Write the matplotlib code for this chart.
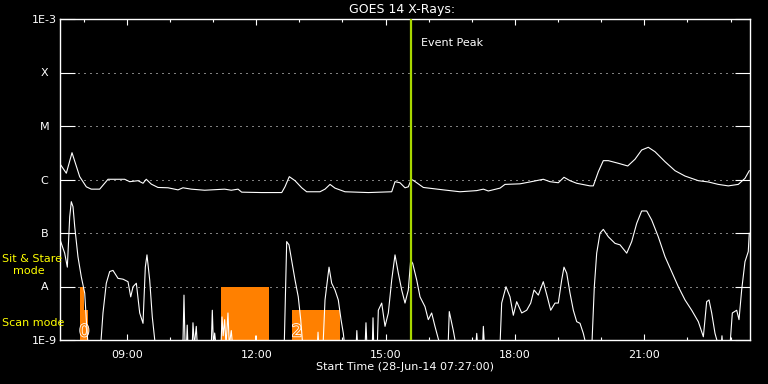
import datetime as dt
import matplotlib
matplotlib.use('Agg')
import matplotlib.pyplot as plt
import matplotlib.dates as mdates
import matplotlib.patheffects as pe
from matplotlib.ticker import NullLocator

# start of the plotted interval
start = dt.datetime(2014, 6, 28, 7, 27)
end_minutes = 960

# 1-8 A channel (upper curve): minutes after start, flux in W/m^2
long_min = [1, 8.8, 16.7, 27.4, 36.6, 43.5, 55.2, 66.8, 90, 97, 108.5, 115.5, 120, 127,
            136.3, 150.3, 164.2, 171.1, 182.7, 201.3, 229.1, 238.3, 247.7, 252.8, 280.6,
            308.5, 313, 319, 327, 336.3, 343.2, 361.7, 368.7, 375.7, 382.6, 396.5, 429,
            461.5, 466.1, 473, 480, 484.6, 488.4, 490.7, 496.3, 505.5, 533.3, 556.5, 579.8,
            589, 595.9, 612.2, 619.1, 640, 653.9, 672.4, 681.7, 693.3, 701.2, 709.6, 718.9,
            737.4, 742, 749, 755.9, 762.9, 776.8, 789.9, 800, 809.3, 818.5, 827.8, 841.8,
            855.7, 869.6, 888.1, 902, 915.9, 929.8, 943.7, 953, 959]
long_flux = [1.87e-6, 1.31e-6, 3.17e-6, 1.13e-6, 7.3e-7, 6.6e-7, 6.6e-7, 1.01e-6, 1.01e-6,
             9.1e-7, 9.5e-7, 8.5e-7, 1.01e-6, 8.2e-7, 7.1e-7, 7.0e-7, 6.4e-7, 7.0e-7, 6.6e-7,
             6.3e-7, 6.6e-7, 6.3e-7, 6.6e-7, 5.8e-7, 5.7e-7, 5.7e-7, 7.3e-7, 1.13e-6, 9.5e-7,
             7.0e-7, 5.9e-7, 5.9e-7, 6.6e-7, 8.1e-7, 6.9e-7, 5.9e-7, 5.7e-7, 5.9e-7, 9.1e-7,
             8.7e-7, 7.0e-7, 7.3e-7, 9.8e-7, 9.8e-7, 8.7e-7, 7.1e-7, 6.4e-7, 5.9e-7, 6.2e-7,
             6.6e-7, 6.1e-7, 6.9e-7, 8.1e-7, 8.3e-7, 9.0e-7, 1.01e-6, 9.1e-7, 8.7e-7, 1.10e-6,
             9.5e-7, 8.5e-7, 7.6e-7, 7.6e-7, 1.40e-6, 2.25e-6, 2.25e-6, 2.01e-6, 1.79e-6,
             2.39e-6, 3.56e-6, 4.0e-6, 3.31e-6, 2.15e-6, 1.46e-6, 1.16e-6, 9.5e-7, 9.0e-7,
             8.1e-7, 7.6e-7, 8.1e-7, 1.05e-6, 1.46e-6]

# 0.5-4 A channel (lower curve)
short_min = [1, 6.5, 10.2, 13.5, 15.7, 18.1, 20.5, 25, 29.6, 34.4, 36.6, 39, 56.6, 59.8,
             64.4, 69.1, 73.7, 80.7, 87.7, 94.6, 98.4, 101.6, 106.2, 110.9, 115.5, 118.7,
             121, 124.8, 128.4, 132.6, 171, 172.5, 174, 176, 177, 178, 184, 185, 187, 189.6,
             191, 210.5, 211.9, 213.5, 215.2, 217, 224, 225.4, 227, 229.1, 231, 233.7, 235.5,
             238.3, 240, 272, 272.7, 273.5, 312, 315.4, 318.6, 322.3, 327, 331.5, 334.9,
             337.7, 358, 359, 360, 366, 368.7, 374.3, 378, 382.6, 387.2, 391, 394.2, 396,
             412, 413, 414, 424.5, 425.7, 427, 434.5, 435.5, 436.5, 441.5, 442.9, 447.6,
             452.2, 456.8, 461.5, 466.1, 470.7, 475.4, 480, 484.6, 487.9, 490.7, 496.3,
             500.9, 507.8, 512.4, 517.1, 521.7, 528.7, 540, 541.6, 547.2, 550.9, 578.5,
             579.8, 581, 588, 589, 590.5, 612.2, 614.5, 620.5, 626.1, 630.7, 635.4, 642.4,
             649.3, 654.9, 659.5, 665.5, 672.4, 678, 682.7, 688.7, 693.3, 698, 701.2, 705,
             709.6, 714.2, 718.9, 723.5, 728.1, 732, 740, 743.4, 746.7, 751.3, 755.9, 762.9,
             772.2, 779.2, 788.5, 795.4, 802.4, 809.3, 816.3, 823.2, 832.4, 841.8, 851,
             860.3, 869.6, 878.9, 888.1, 895.1, 899.7, 903, 906.7, 911.3, 915.9, 920, 921,
             922, 932.2, 935.4, 941.5, 944.7, 948.4, 953, 957.6, 959]
short_flux = [6.9e-8, 4.2e-8, 2.3e-8, 2.0e-7, 3.85e-7, 3.1e-7, 1.31e-7, 3.6e-8, 1.52e-8,
              7.5e-9, 2.4e-9, 8e-10, 8e-10, 3.2e-9, 1.15e-8, 1.9e-8, 2.0e-8, 1.42e-8,
              1.37e-8, 1.23e-8, 6.4e-9, 9.9e-9, 1.15e-8, 3.2e-9, 2.05e-9, 2.3e-8, 3.9e-8,
              1.32e-8, 2.7e-9, 8e-10, 8e-10, 6.9e-9, 8e-10, 8e-10, 1.9e-9, 8e-10, 8e-10,
              2.1e-9, 8e-10, 1.8e-9, 8e-10, 8e-10, 3.6e-9, 8e-10, 1.35e-9, 8e-10, 8e-10,
              2.7e-9, 1.2e-9, 2.4e-9, 8e-10, 3.2e-9, 8e-10, 1.5e-9, 8e-10, 8e-10, 1.2e-9,
              8e-10, 8e-10, 6.9e-8, 6.0e-8, 3.1e-8, 1.32e-8, 6.4e-9, 2.4e-9, 8e-10, 8e-10,
              1.4e-9, 8e-10, 8e-10, 5.6e-9, 2.3e-8, 1.15e-8, 8.6e-9, 5.6e-9, 2.4e-9, 1.33e-9,
              8e-10, 8e-10, 1.5e-9, 8e-10, 8e-10, 2.1e-9, 8e-10, 8e-10, 2.6e-9, 8e-10, 8e-10,
              3.6e-9, 4.9e-9, 1.8e-9, 3.2e-9, 1.32e-8, 3.9e-8, 1.77e-8, 8.6e-9, 4.9e-9,
              8.6e-9, 3.1e-8, 2.7e-8, 1.32e-8, 6.4e-9, 4.2e-9, 2.4e-9, 3.2e-9, 1.8e-9, 8e-10,
              8e-10, 3.4e-9, 1.5e-9, 8e-10, 8e-10, 1.33e-9, 8e-10, 8e-10, 1.8e-9, 8e-10,
              8e-10, 4.9e-9, 9.9e-9, 6.4e-9, 2.9e-9, 5.2e-9, 3.2e-9, 3.6e-9, 4.9e-9, 8.6e-9,
              6.9e-9, 1.23e-8, 6.4e-9, 3.6e-9, 4.9e-9, 4.9e-9, 1.32e-8, 2.3e-8, 1.77e-8,
              7.5e-9, 3.6e-9, 2.2e-9, 2.05e-9, 1.33e-9, 8e-10, 8e-10, 9.9e-9, 4.2e-8, 9.9e-8,
              1.17e-7, 8.5e-8, 6.4e-8, 6.0e-8, 4.2e-8, 6.9e-8, 1.52e-7, 2.58e-7, 2.58e-7,
              1.75e-7, 8.5e-8, 3.6e-8, 1.9e-8, 9.9e-9, 5.6e-9, 3.6e-9, 2.2e-9, 1.15e-9,
              5.2e-9, 5.6e-9, 3.2e-9, 1.33e-9, 8e-10, 8e-10, 1.2e-9, 8e-10, 8e-10, 3.2e-9,
              3.6e-9, 2.4e-9, 8.6e-9, 2.9e-8, 4.5e-8, 9.9e-8]

# observing mode blocks
mode_start = [27.4, 33.4, 224.1, 323.2]
mode_end = [33.4, 39.0, 290.7, 389.5]
mode_top = [1e-8, 3.6e-9, 1e-8, 3.6e-9]
mode_label = ['0', '2']
mode_label_min = [33.8, 329.7]

event_peak_min = 488.3

levels = [1e-9, 1e-8, 1e-7, 1e-6, 1e-5, 1e-4, 1e-3]
level_labels = ['1E-9', 'A', 'B', 'C', 'M', 'X', '1E-3']


def to_time(mins):
    return [start + dt.timedelta(minutes=m) for m in mins]


fig = plt.figure(figsize=(7.68, 3.84), dpi=100, facecolor='black')
ax = fig.add_axes([60 / 768, 44 / 384, 690 / 768, 321 / 384])
ax.set_facecolor('black')
ax.set_yscale('log')

# flare class dotted lines
for lv in levels[1:-1]:
    ax.axhline(lv, color='white', lw=0.72, ls=(0, (1, 5)), zorder=1)

# mode rectangles
widths = [dt.timedelta(minutes=e - s) for s, e in zip(mode_start, mode_end)]
ax.bar(to_time(mode_start), [t - 1e-10 for t in mode_top], width=widths, bottom=1e-10,
       align='edge', color='#ff8000', zorder=2)
for lab, m in zip(mode_label, mode_label_min):
    ax.text(to_time([m])[0], 1.45e-9, lab, color='#ff8000', fontsize=12, ha='center',
            va='center', zorder=3,
            path_effects=[pe.withStroke(linewidth=1.2, foreground='white')])

ax.plot(to_time(long_min), long_flux, color='white', lw=0.8, zorder=4)
ax.plot(to_time(short_min), short_flux, color='white', lw=0.8, zorder=4)

ev = to_time([event_peak_min])[0]
ax.axvline(ev, color='#a8d800', lw=1.6, zorder=5)
ax.annotate('Event Peak', xy=(ev, 3.5e-4), xytext=(7, 0), textcoords='offset points',
            color='white', fontsize=8, va='center')

ax.set_xlim(start, start + dt.timedelta(minutes=end_minutes))
ax.set_ylim(1e-9, 1e-3)

ax.set_yticks(levels)
ax.set_yticklabels(level_labels)
ax.yaxis.set_minor_locator(NullLocator())
ax.tick_params(axis='y', which='major', direction='in', length=10.8, width=0.8,
               left=True, right=True, colors='white', labelsize=8, pad=11)
for lbl in ax.get_yticklabels():
    lbl.set_horizontalalignment('center')

ax.xaxis.set_major_locator(mdates.HourLocator(byhour=[9, 12, 15, 18, 21]))
ax.xaxis.set_minor_locator(mdates.HourLocator())
ax.xaxis.set_major_formatter(mdates.DateFormatter('%H:%M'))
ax.tick_params(axis='x', which='major', direction='in', length=4.5, width=0.8,
               top=True, bottom=True, colors='white', labelsize=8, pad=7)
ax.tick_params(axis='x', which='minor', direction='in', length=2.5, width=0.8,
               top=True, bottom=True, colors='white')

for sp in ax.spines.values():
    sp.set_color('white')
    sp.set_linewidth(1.0)

ax.set_xlabel('Start Time (28-Jun-14 07:27:00)', color='white', fontsize=8, labelpad=2)
fig.text(401.7 / 768, 1 - 9.5 / 384, 'GOES 14 X-Rays:', color='white', fontsize=9,
         ha='center', va='center')

fig.text(2 / 768, 1 - 259 / 384, 'Sit & Stare', color='yellow', fontsize=8,
         ha='left', va='center')
fig.text(12.7 / 768, 1 - 271 / 384, 'mode', color='yellow', fontsize=8,
         ha='left', va='center')
fig.text(2 / 768, 1 - 323 / 384, 'Scan mode', color='yellow', fontsize=8,
         ha='left', va='center')

fig.savefig('out.png', dpi=100, facecolor='black')
